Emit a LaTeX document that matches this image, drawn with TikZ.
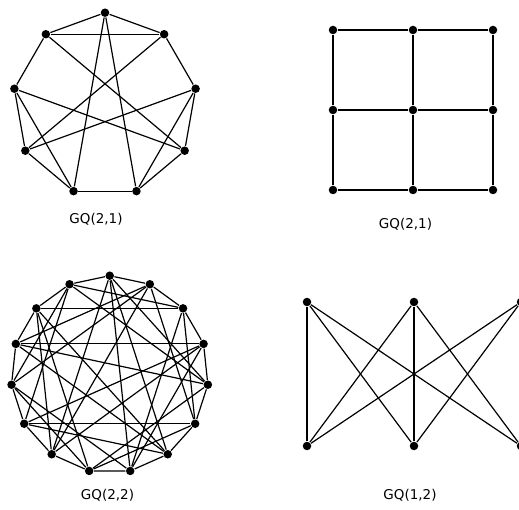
\documentclass[tikz,border=0pt]{standalone}
\usepackage{fontspec}
\setmainfont{DejaVu Sans}
\usepackage{tikz}
\usetikzlibrary{positioning}

\tikzset{
  dot/.style={circle,fill=black,inner sep=0pt,minimum size=8.5pt},
  lbl/.style={font=\fontsize{13.5}{16}\selectfont}
}

\begin{document}
\begin{tikzpicture}[x=1pt,y=1pt,line width=1.2pt]
            \useasboundingbox (0,0) rectangle (519,-510);
            % GQ(2,1) on a circle
            \begin{scope}[shift={(105,-104.7)}]
            \node[dot](a0) at (90:92) {};
            \node[dot](a1) at (130:92) {};
            \node[dot](a2) at (170:92) {};
            \node[dot](a3) at (210:92) {};
            \node[dot](a4) at (250:92) {};
            \node[dot](a5) at (290:92) {};
            \node[dot](a6) at (330:92) {};
            \node[dot](a7) at (10:92) {};
            \node[dot](a8) at (50:92) {};
            \end{scope}
            \draw (a0) -- (a1);
            \draw (a0) -- (a8);
            \draw (a0) -- (a4);
            \draw (a0) -- (a5);
            \draw (a1) -- (a8);
            \draw (a1) -- (a2);
            \draw (a1) -- (a6);
            \draw (a8) -- (a7);
            \draw (a8) -- (a3);
            \draw (a2) -- (a3);
            \draw (a2) -- (a4);
            \draw (a2) -- (a6);
            \draw (a3) -- (a4);
            \draw (a3) -- (a7);
            \draw (a4) -- (a5);
            \draw (a5) -- (a6);
            \draw (a5) -- (a7);
            \draw (a6) -- (a7);
            \node[lbl](la) at (96,-219) {GQ(2,1)};

            % GQ(2,1) as a grid
            \node[dot](b1) at (333,-30) {};
            \node[dot](b2) at (413,-30) {};
            \node[dot](b3) at (493,-30) {};
            \node[dot](b4) at (333,-110) {};
            \node[dot](b5) at (413,-110) {};
            \node[dot](b6) at (493,-110) {};
            \node[dot](b7) at (333,-190) {};
            \node[dot](b8) at (413,-190) {};
            \node[dot](b9) at (493,-190) {};
            \draw (b1) -- (b2) -- (b3);
            \draw (b4) -- (b5) -- (b6);
            \draw (b7) -- (b8) -- (b9);
            \draw (b1) -- (b4) -- (b7);
            \draw (b2) -- (b5) -- (b8);
            \draw (b3) -- (b6) -- (b9);
            \node[lbl](lb) at (405.5,-224) {GQ(2,1)};

            % GQ(2,2) on a circle
            \begin{scope}[shift={(109.7,-374.4)}]
            \node[dot](c0) at (90:98.7) {};
            \node[dot](c1) at (114:98.7) {};
            \node[dot](c2) at (138:98.7) {};
            \node[dot](c3) at (162:98.7) {};
            \node[dot](c4) at (186:98.7) {};
            \node[dot](c5) at (210:98.7) {};
            \node[dot](c6) at (234:98.7) {};
            \node[dot](c7) at (258:98.7) {};
            \node[dot](c8) at (282:98.7) {};
            \node[dot](c9) at (306:98.7) {};
            \node[dot](c10) at (330:98.7) {};
            \node[dot](c11) at (354:98.7) {};
            \node[dot](c12) at (18:98.7) {};
            \node[dot](c13) at (42:98.7) {};
            \node[dot](c14) at (66:98.7) {};
            \end{scope}
            \draw (c0) -- (c1) -- (c2) -- (c3) -- (c4) -- (c5) -- (c6) -- (c7)
                  -- (c8) -- (c9) -- (c10) -- (c11) -- (c12) -- (c13) -- (c14) -- (c0);
            \draw (c0) -- (c6);
            \draw (c0) -- (c8);
            \draw (c0) -- (c9);
            \draw (c0) -- (c11);
            \draw (c1) -- (c4);
            \draw (c1) -- (c5);
            \draw (c1) -- (c11);
            \draw (c1) -- (c13);
            \draw (c2) -- (c6);
            \draw (c2) -- (c7);
            \draw (c2) -- (c9);
            \draw (c2) -- (c13);
            \draw (c3) -- (c9);
            \draw (c3) -- (c11);
            \draw (c3) -- (c12);
            \draw (c3) -- (c14);
            \draw (c4) -- (c7);
            \draw (c4) -- (c8);
            \draw (c4) -- (c14);
            \draw (c5) -- (c9);
            \draw (c5) -- (c10);
            \draw (c5) -- (c12);
            \draw (c6) -- (c12);
            \draw (c6) -- (c14);
            \draw (c7) -- (c10);
            \draw (c7) -- (c11);
            \draw (c8) -- (c12);
            \draw (c8) -- (c13);
            \draw (c10) -- (c13);
            \draw (c10) -- (c14);
            \node[lbl](lc) at (107.5,-495) {GQ(2,2)};

            % GQ(1,2)
            \node[dot](d1) at (307,-302) {};
            \node[dot](d2) at (414,-302) {};
            \node[dot](d3) at (521,-302) {};
            \node[dot](d4) at (307,-446) {};
            \node[dot](d5) at (414,-446) {};
            \node[dot](d6) at (521,-446) {};
            \draw (d1) -- (d4);
            \draw (d1) -- (d5);
            \draw (d1) -- (d6);
            \draw (d2) -- (d4);
            \draw (d2) -- (d5);
            \draw (d2) -- (d6);
            \draw (d3) -- (d4);
            \draw (d3) -- (d5);
            \draw (d3) -- (d6);
            \node[lbl](ld) at (410,-495) {GQ(1,2)};
\end{tikzpicture}
\end{document}
